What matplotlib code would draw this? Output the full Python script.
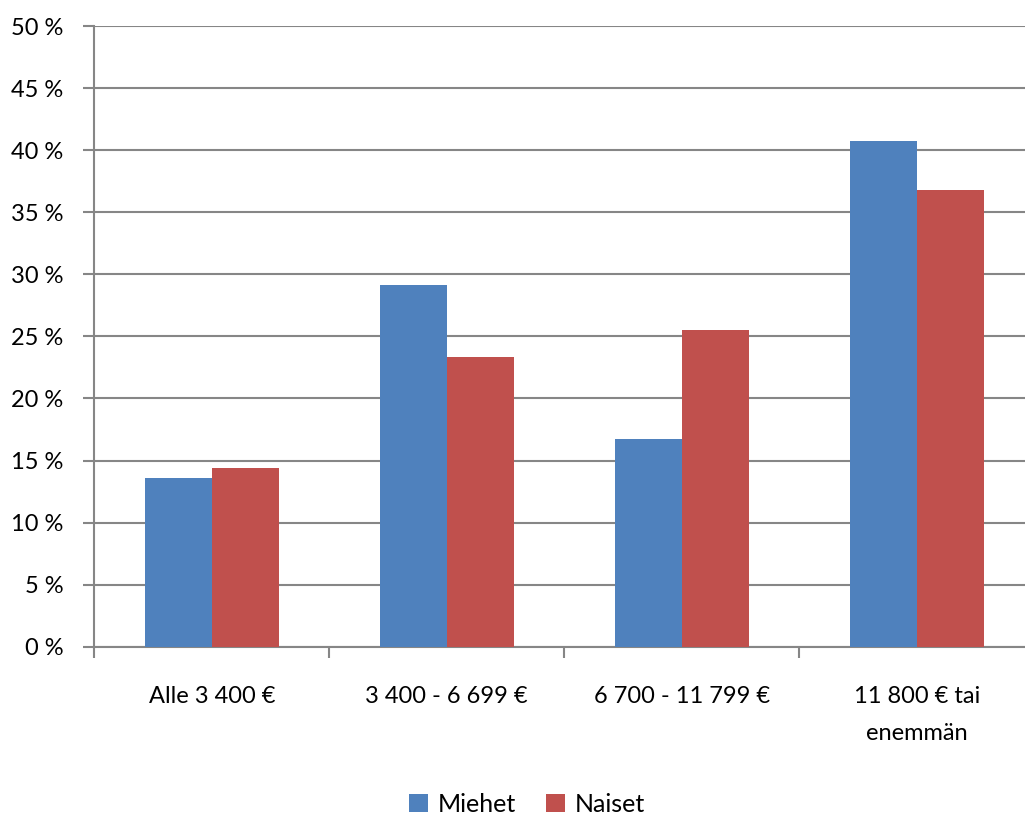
import numpy as np
import matplotlib.pyplot as plt
from matplotlib.ticker import FixedLocator

categories = ["Alle 3 400 €", "3 400 - 6 699 €", "6 700 - 11 799 €", "11 800 € tai\nenemmän"]
miehet = [13.6, 29.1, 16.7, 40.7]
naiset = [14.4, 23.3, 25.5, 36.8]
yticks = [0, 5, 10, 15, 20, 25, 30, 35, 40, 45, 50]

plt.rcParams['font.family'] = ['Lato', 'DejaVu Sans']

fig = plt.figure(figsize=(10.25, 8.14), dpi=100)
# plot area runs slightly past the right edge, like the original
ax = fig.add_axes([0.092, 0.2055, 0.917, 0.7625])

x = np.arange(len(categories))
w = 1 / 3.5
ax.bar(x - w / 2, miehet, w, color='#4F81BD', label='Miehet', zorder=3)
ax.bar(x + w / 2, naiset, w, color='#C0504D', label='Naiset', zorder=3)

ax.set_xlim(-0.5, len(categories) - 0.5)
ax.set_ylim(0, 50)
ax.set_yticks(yticks)
ax.set_yticklabels([f"{t} %" for t in yticks], fontsize=17)
ax.yaxis.grid(True, color='#868686', linewidth=1.5, zorder=0)

ax.set_xticks(x)
ax.set_xticklabels(categories, fontsize=17, linespacing=1.95)
ax.tick_params(axis='x', which='major', length=0, pad=28)
ax.xaxis.set_minor_locator(FixedLocator(np.arange(-0.5, len(categories), 1.0)))
ax.tick_params(axis='x', which='minor', length=8, width=1.5, color='#868686')
ax.tick_params(axis='y', length=8, width=1.5, color='#868686', pad=14)

for s in ['top', 'right']:
    ax.spines[s].set_visible(False)
for s in ['left', 'bottom']:
    ax.spines[s].set_color('#868686')
    ax.spines[s].set_linewidth(1.5)

fig.legend(loc='lower center', bbox_to_anchor=(0.514, -0.03), ncol=2, frameon=False,
           fontsize=18, handlelength=0.75, handleheight=0.75, handletextpad=0.4,
           columnspacing=1.2)

fig.savefig('out.png', dpi=100)
